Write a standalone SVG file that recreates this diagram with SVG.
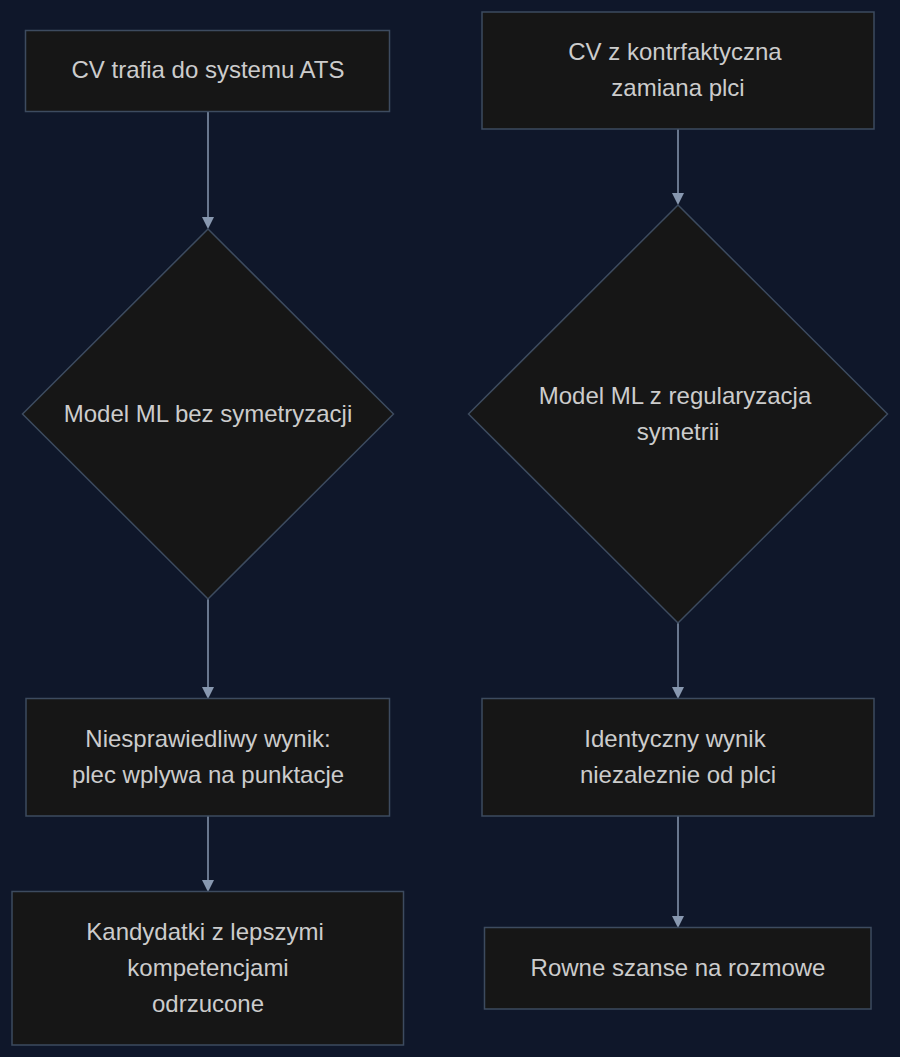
<svg xmlns="http://www.w3.org/2000/svg" width="900" height="1057" viewBox="0 0 900 1057">
<style>
.n{fill:#161616;stroke:#3d4b5f;stroke-width:1.5}
.t{font-family:"Liberation Sans",Arial,sans-serif;font-size:24px;fill:#cccccc;text-anchor:middle}
.e{stroke:#8898b0;stroke-width:1.5;fill:none}
.h{fill:#8898b0}
</style>
<rect width="900" height="1057" fill="#0f172a"/>
<g id="edges">
<line class="e" x1="208" y1="111" x2="208" y2="218"/><path class="h" d="M202 217 L214 217 L208 229 Z"/>
<line class="e" x1="208" y1="599" x2="208" y2="688"/><path class="h" d="M202 687 L214 687 L208 699 Z"/>
<line class="e" x1="208" y1="816" x2="208" y2="881"/><path class="h" d="M202 880 L214 880 L208 892 Z"/>
<line class="e" x1="678" y1="129" x2="678" y2="194"/><path class="h" d="M672 193 L684 193 L678 205 Z"/>
<line class="e" x1="678" y1="623" x2="678" y2="688"/><path class="h" d="M672 687 L684 687 L678 699 Z"/>
<line class="e" x1="678" y1="816" x2="678" y2="917"/><path class="h" d="M672 916 L684 916 L678 928 Z"/>
</g>
<g id="A"><rect class="n" x="25.5" y="30.5" width="364" height="81"/><text class="t" x="208" y="78">CV trafia do systemu ATS</text></g>
<g id="B"><rect class="n" x="482" y="12" width="392" height="117"/><text class="t" x="675" y="60">CV z kontrfaktyczna</text><text class="t" x="678" y="96">zamiana plci</text></g>
<g id="L"><path class="n" d="M208 229 L393.5 414 L208 599 L22.5 414 Z"/><text class="t" x="208" y="422">Model ML bez symetryzacji</text></g>
<g id="R"><path class="n" d="M678 205 L887.5 414 L678 623 L468.5 414 Z"/><text class="t" x="675" y="404">Model ML z regularyzacja</text><text class="t" x="678" y="440">symetrii</text></g>
<g id="C"><rect class="n" x="26" y="698.5" width="363.5" height="117.5"/><text class="t" x="208" y="747">Niesprawiedliwy wynik:</text><text class="t" x="208" y="783">plec wplywa na punktacje</text></g>
<g id="D"><rect class="n" x="482" y="698.5" width="392" height="117.5"/><text class="t" x="675" y="747">Identyczny wynik</text><text class="t" x="678" y="783">niezaleznie od plci</text></g>
<g id="E"><rect class="n" x="12" y="891.5" width="391.5" height="153.5"/><text class="t" x="205" y="940">Kandydatki z lepszymi</text><text class="t" x="208" y="976">kompetencjami</text><text class="t" x="208" y="1012">odrzucone</text></g>
<g id="F"><rect class="n" x="484.5" y="927.5" width="386.5" height="81.5"/><text class="t" x="678" y="976">Rowne szanse na rozmowe</text></g>
</svg>
